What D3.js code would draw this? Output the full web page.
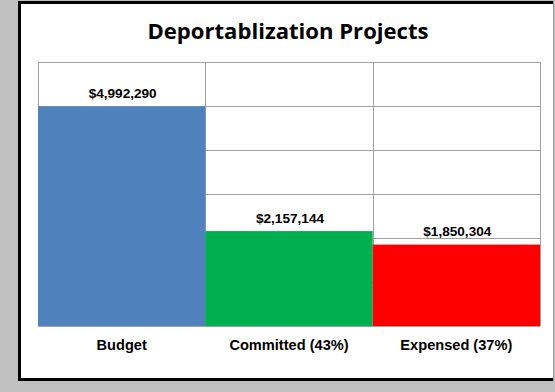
<!DOCTYPE html>
<html>
<head>
<meta charset="utf-8">
<script src="https://cdn.jsdelivr.net/npm/d3@7/dist/d3.min.js"></script>
<style>
  html, body { margin: 0; padding: 0; background: #c0c0c0; overflow: hidden; }
  svg { display: block; }
</style>
</head>
<body>
<svg id="chart" width="555" height="392"></svg>
<script>
// Project spending figures
const categories = ["Budget", "Committed (43%)", "Expensed (37%)"];
const amounts = [4992290, 2157144, 1850304];
const barColors = ["#4F81BD", "#00B050", "#FF0000"];
const yTicks = [0, 1000000, 2000000, 3000000, 4000000, 5000000, 6000000];
const title = "Deportablization Projects";

const W = 555, H = 392;
const plot = { left: 38, right: 540, top: 62, bottom: 326 };

const svg = d3.select("#chart");

// Grey backdrop and the white framed panel
svg.append("rect").attr("width", W).attr("height", H).attr("fill", "#c0c0c0");
svg.append("rect")
  .attr("x", 18).attr("y", 1).attr("width", 536).attr("height", 380)
  .attr("fill", "#ffffff");
svg.append("path")
  .attr("d", "M553,2.5 H19.5 V379.5 H553")
  .attr("fill", "none")
  .attr("stroke", "#000")
  .attr("stroke-width", 3);
svg.append("rect")
  .attr("x", 553).attr("y", 1).attr("width", 1).attr("height", 380)
  .attr("fill", "#9a9a9a");

const x = d3.scaleBand()
  .domain(categories)
  .range([plot.left, plot.right])
  .padding(0);

const y = d3.scaleLinear()
  .domain([0, 6000000])
  .range([plot.bottom, plot.top]);

const gridColor = "#a0a0a0";

// Horizontal gridlines from the value axis
const yAxis = d3.axisLeft(y).tickValues(yTicks).tickSize(-(plot.right - plot.left)).tickFormat("");
const gy = svg.append("g")
  .attr("transform", `translate(${plot.left},0)`)
  .call(yAxis);
gy.select(".domain").remove();
gy.selectAll(".tick line").attr("stroke", gridColor).attr("stroke-width", 1)
  .attr("shape-rendering", "crispEdges");

// Vertical gridlines at category boundaries
const bounds = categories.map(c => x(c)).concat([x(categories[categories.length - 1]) + x.bandwidth()]);
svg.append("g").selectAll("line")
  .data(bounds)
  .join("line")
  .attr("x1", d => Math.round(d) + 0.5).attr("x2", d => Math.round(d) + 0.5)
  .attr("y1", plot.top).attr("y2", plot.bottom)
  .attr("stroke", gridColor).attr("stroke-width", 1)
  .attr("shape-rendering", "crispEdges");

// Bars
svg.append("g").selectAll("rect")
  .data(amounts)
  .join("rect")
  .attr("x", (d, i) => x(categories[i]))
  .attr("y", d => y(d))
  .attr("width", x.bandwidth())
  .attr("height", d => y(0) - y(d))
  .attr("fill", (d, i) => barColors[i]);

// Baseline
svg.append("line")
  .attr("x1", plot.left).attr("x2", plot.right)
  .attr("y1", plot.bottom + 0.5).attr("y2", plot.bottom + 0.5)
  .attr("stroke", gridColor).attr("stroke-width", 1);

// Value labels above bars
const fmt = d3.format("$,");
svg.append("g").selectAll("text")
  .data(amounts)
  .join("text")
  .attr("x", (d, i) => x(categories[i]) + x.bandwidth() / 2 + 1)
  .attr("y", d => y(d) - 8.5)
  .attr("text-anchor", "middle")
  .attr("font-family", "'Liberation Sans', Arial, sans-serif")
  .attr("font-weight", "bold")
  .attr("font-size", "13.6px")
  .attr("fill", "#000")
  .text(d => fmt(d));

// Category axis labels
const xAxis = d3.axisBottom(x).tickSize(0).tickPadding(0);
const gx = svg.append("g")
  .attr("transform", `translate(0,${plot.bottom})`)
  .call(xAxis);
gx.select(".domain").remove();
gx.selectAll(".tick text")
  .attr("y", 24)
  .attr("dy", 0)
  .attr("font-family", "'Liberation Sans', Arial, sans-serif")
  .attr("font-weight", "bold")
  .attr("font-size", "14.6px")
  .attr("fill", "#000");

// Title, sized to span about 281px
const titleText = svg.append("text")
  .attr("x", 288)
  .attr("y", 38.5)
  .attr("text-anchor", "middle")
  .attr("font-family", "'Open Sans', 'Noto Sans', sans-serif")
  .attr("font-weight", "bold")
  .attr("font-size", "20px")
  .attr("fill", "#000")
  .text(title);
const tw = titleText.node().getComputedTextLength();
if (tw > 0) titleText.attr("font-size", (20 * 281 / tw).toFixed(2) + "px");
</script>
</body>
</html>
